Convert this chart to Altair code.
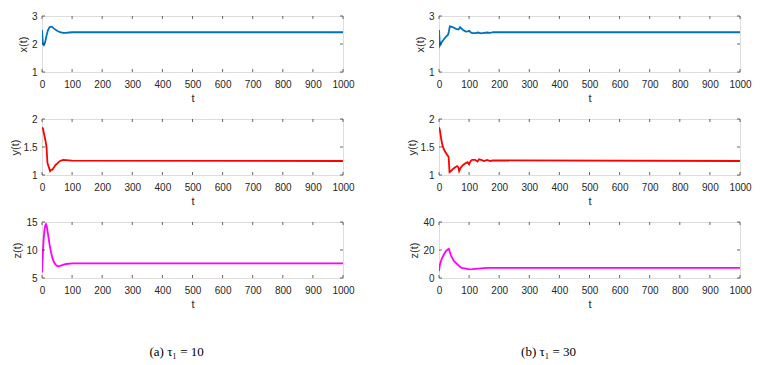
import altair as alt
import pandas as pd

# ---- data ----
X_TICKS = [0, 100, 200, 300, 400, 500, 600, 700, 800, 900, 1000]

# tau1 = 10
t_x10 = [0, 3, 6, 10, 15, 20, 25, 30, 35, 40, 50, 60, 70, 80, 90, 100, 1000]
v_x10 = [2.50, 2.00, 1.96, 2.05, 2.30, 2.50, 2.60, 2.62, 2.60, 2.55, 2.47, 2.42, 2.40, 2.40, 2.41, 2.42, 2.42]

t_y10 = [0, 3, 8, 12, 15, 18, 22, 27, 30, 35, 40, 45, 50, 55, 60, 70, 80, 90, 100, 1000]
v_y10 = [1.85, 1.83, 1.70, 1.60, 1.50, 1.22, 1.15, 1.07, 1.09, 1.10, 1.14, 1.18, 1.20, 1.23, 1.25, 1.27, 1.265, 1.26, 1.255, 1.25]

t_z10 = [0, 2, 5, 8, 11, 13, 16, 20, 25, 30, 35, 40, 45, 50, 55, 60, 70, 80, 100, 1000]
v_z10 = [6.0, 8.5, 11.5, 13.5, 14.4, 14.6, 14.2, 12.8, 11.0, 9.6, 8.5, 7.8, 7.4, 7.15, 7.1, 7.15, 7.35, 7.5, 7.6, 7.6]

# tau1 = 30
t_x30 = [0, 3, 8, 15, 22, 30, 33, 36, 40, 45, 50, 55, 60, 65, 70, 75, 80, 85, 90, 95, 100, 105, 110, 120, 130, 140, 150, 160, 170, 180, 200, 1000]
v_x30 = [2.50, 1.95, 2.05, 2.15, 2.25, 2.33, 2.45, 2.63, 2.62, 2.60, 2.58, 2.55, 2.53, 2.52, 2.60, 2.55, 2.50, 2.47, 2.44, 2.45, 2.47, 2.42, 2.39, 2.39, 2.41, 2.38, 2.40, 2.41, 2.40, 2.42, 2.42, 2.42]

t_y30 = [0, 3, 8, 12, 17, 22, 27, 32, 35, 38, 45, 52, 60, 64, 67, 72, 80, 88, 95, 100, 105, 110, 120, 128, 133, 140, 150, 160, 170, 180, 1000]
v_y30 = [1.85, 1.80, 1.62, 1.52, 1.45, 1.40, 1.36, 1.32, 1.05, 1.06, 1.10, 1.13, 1.16, 1.14, 1.07, 1.13, 1.18, 1.21, 1.23, 1.19, 1.25, 1.27, 1.27, 1.24, 1.28, 1.27, 1.25, 1.27, 1.25, 1.26, 1.25]

t_z30 = [0, 3, 7, 12, 18, 24, 30, 33, 36, 40, 45, 50, 55, 60, 65, 70, 75, 80, 90, 100, 110, 120, 140, 160, 180, 200, 1000]
v_z30 = [5.0, 9.5, 12.5, 15.0, 17.5, 19.5, 20.5, 20.8, 18.5, 16.0, 14.0, 12.0, 11.0, 10.0, 9.0, 8.0, 7.2, 7.0, 6.7, 6.2, 6.3, 6.5, 6.9, 7.2, 7.3, 7.3, 7.3]

captions = ["(a)  \u03c4\u2081 = 10", "(b)  \u03c4\u2081 = 30"]

# ---- styling ----
AX = "#262626"
W, H = 301, 56
SANS = "Liberation Sans"
SERIF = "Liberation Serif"
BLUE, RED, MAG = "#0072BD", "#FF0000", "#FF00FF"
TK = 3
LBL = "'' + datum.value"


def axis(values, title, lpad, tpad):
    return alt.Axis(values=values, labelExpr=LBL, title=title, labelOverlap=False,
                    labelFlush=False,
                    labelFont=SANS, labelFontSize=10, labelColor=AX, labelPadding=lpad,
                    titleFont=SANS, titleFontSize=11, titleFontWeight="normal",
                    titleColor=AX, titlePadding=tpad, domain=False, ticks=False, grid=False)


def panel(t, v, color, ydom, yticks, ytitle):
    df = pd.DataFrame({"t": t, "v": v})
    xscale = alt.Scale(domain=[0, 1000], nice=False)
    yscale = alt.Scale(domain=ydom, nice=False, zero=False)
    line = alt.Chart(df).mark_line(color=color, strokeWidth=1.8, clip=True).encode(
        x=alt.X("t:Q", scale=xscale, axis=axis(X_TICKS, "t", 7, 3)),
        y=alt.Y("v:Q", scale=yscale, axis=axis(yticks, ytitle, 5, 3)),
    )
    xt = pd.DataFrame({"t": X_TICKS})
    yt = pd.DataFrame({"v": yticks})
    top = alt.Chart(xt).mark_rule(color=AX, strokeWidth=0.7).encode(
        x=alt.X("t:Q", axis=None), y=alt.value(0), y2=alt.value(TK))
    bot = alt.Chart(xt).mark_rule(color=AX, strokeWidth=0.7).encode(
        x=alt.X("t:Q", axis=None), y=alt.value(H), y2=alt.value(H - TK))
    lft = alt.Chart(yt).mark_rule(color=AX, strokeWidth=0.7).encode(
        y=alt.Y("v:Q", axis=None), x=alt.value(0), x2=alt.value(TK))
    rgt = alt.Chart(yt).mark_rule(color=AX, strokeWidth=0.7).encode(
        y=alt.Y("v:Q", axis=None), x=alt.value(W), x2=alt.value(W - TK))
    return alt.layer(line, top, bot, lft, rgt).resolve_axis(
        x="independent", y="independent").properties(width=W, height=H)


def column(series, caption, dx):
    (tx, vx), (ty, vy), (tz, vz), zdom, zticks = series
    return alt.vconcat(
        panel(tx, vx, BLUE, [1, 3], [1, 2, 3], "x(t)"),
        panel(ty, vy, RED, [1, 2], [1, 1.5, 2], "y(t)"),
        panel(tz, vz, MAG, zdom, zticks, "z(t)"),
        spacing=9,
        title=alt.TitleParams(caption, orient="bottom", anchor="middle",
                              font=SERIF, fontSize=13, fontWeight="normal",
                              color="black", offset=36, dx=dx),
    )


left = column([(t_x10, v_x10), (t_y10, v_y10), (t_z10, v_z10), [5, 15], [5, 10, 15]], captions[0], -5)
right = column([(t_x30, v_x30), (t_y30, v_y30), (t_z30, v_z30), [0, 40], [0, 20, 40]], captions[1], -30)

chart = alt.hconcat(left, right, spacing=50).properties(
    padding={"left": 0, "top": 2, "right": 0, "bottom": 0}
).configure_view(
    stroke=AX, strokeWidth=0.8
).configure(background="white")

chart.save("out.html", embed_options={"renderer": "svg", "actions": False})
